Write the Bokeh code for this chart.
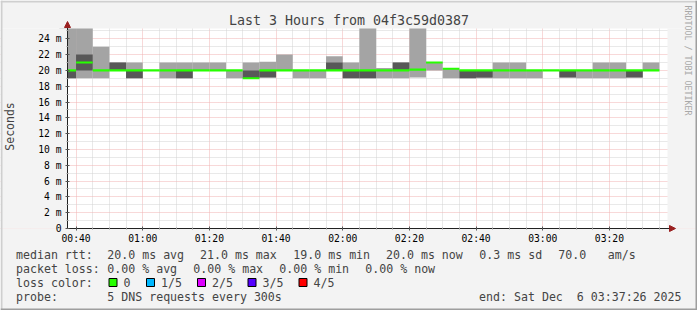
import math
from bokeh.plotting import figure
from bokeh.models import (ColumnDataSource, FixedTicker, Label, Arrow, NormalHead,
                          BoxAnnotation, Range1d)
from bokeh.embed import file_html
from bokeh.resources import INLINE

# ---------------- data ----------------
# start of each 5-minute step
step_start = ["00:35", "00:40", "00:45", "00:50", "00:55", "01:00", "01:05", "01:10",
              "01:15", "01:20", "01:25", "01:30", "01:35", "01:40", "01:45", "01:50",
              "01:55", "02:00", "02:05", "02:10", "02:15", "02:20", "02:25", "02:30",
              "02:35", "02:40", "02:45", "02:50", "02:55", "03:00", "03:05", "03:10",
              "03:15", "03:20", "03:25", "03:30"]
# sorted DNS response times of the 5 requests, in ms
ping1 = [19.0, 19.0, 19.0, 20.0, 19.0, 20.0, 19.0, 19.0, 20.0, 20.0, 19.0, 19.0,
         19.1, 20.0, 19.0, 19.0, 20.0, 19.0, 19.0, 19.0, 19.0, 19.1, 20.0, 19.0,
         19.0, 19.0, 19.0, 19.0, 19.0, 20.0, 19.1, 19.0, 19.0, 19.0, 19.1, 20.0]
ping2 = [19.0, 20.0, 20.0, 20.0, 19.0, 20.0, 20.0, 19.0, 20.0, 20.0, 20.0, 19.0,
         19.1, 20.0, 20.0, 20.0, 20.0, 19.0, 19.0, 20.0, 20.0, 20.1, 21.0, 20.2,
         19.0, 19.1, 20.0, 20.0, 20.0, 20.0, 19.1, 20.0, 20.0, 20.0, 19.1, 20.0]
median = [20.0, 21.0, 20.0, 20.0, 20.0, 20.0, 20.0, 20.0, 20.0, 20.0, 20.0, 19.0,
          20.0, 20.0, 20.0, 20.0, 20.0, 20.0, 20.0, 20.0, 20.0, 20.1, 21.0, 20.2,
          20.0, 20.0, 20.0, 20.0, 20.0, 20.0, 20.0, 20.0, 20.0, 20.0, 20.0, 20.0]
ping4 = [20.0, 22.0, 20.0, 21.0, 20.0, 20.0, 20.0, 20.0, 20.0, 20.0, 20.0, 20.0,
         20.0, 20.0, 20.0, 20.0, 21.0, 20.0, 20.0, 20.0, 21.0, 20.1, 21.0, 20.2,
         20.0, 20.0, 20.0, 20.0, 20.0, 20.0, 20.0, 20.0, 20.0, 20.0, 20.0, 20.0]
ping5 = [26.0, 26.0, 23.0, 21.0, 21.0, 20.0, 21.0, 21.0, 21.0, 21.0, 20.0, 21.0,
         21.1, 22.0, 20.0, 20.0, 21.8, 21.0, 26.0, 20.3, 21.0, 26.0, 21.0, 20.2,
         20.0, 20.0, 21.0, 21.0, 20.0, 20.0, 20.0, 20.0, 21.0, 21.0, 20.0, 21.0]

x_tick_labels = ["00:40", "01:00", "01:20", "01:40", "02:00", "02:20", "02:40", "03:00", "03:20"]
y_tick_values = [0, 2, 4, 6, 8, 10, 12, 14, 16, 18, 20, 22, 24]
y_tick_labels = ["0", "2 m", "4 m", "6 m", "8 m", "10 m", "12 m", "14 m", "16 m",
                 "18 m", "20 m", "22 m", "24 m"]

title_text = "Last 3 Hours from 04f3c59d0387"
rtt_items = ["median rtt:", "20.0 ms avg", "21.0 ms max", "19.0 ms min", "20.0 ms now",
             "0.3 ms sd", "70.0", "am/s"]
loss_items = ["packet loss:", "0.00 % avg", "0.00 % max", "0.00 % min", "0.00 % now"]
loss_title = "loss color:"
loss_labels = ["0", "1/5", "2/5", "3/5", "4/5"]
loss_colors = ["#26ff00", "#00b8ff", "#dd00ff", "#5500ff", "#ff0000"]
probe_items = ["probe:", "5 DNS requests every 300s"]
end_text = "end: Sat Dec\u00a0 6 03:37:26 2025"
watermark = "RRDTOOL / TOBI OETIKER"
start_time = "00:37:26"
span_minutes = 180

# ---------------- layout constants (pixels) ----------------
W, H = 697, 310
FL, FT, FW, FH = 67, 28, 600, 200          # white graph canvas
rtt_x = [15.5, 106.8, 199.5, 292.8, 385.5, 478.8, 557.8, 607.2]
loss_x = [15.5, 106.8, 192.8, 278.8, 364.8]
probe_x = [15.5, 106.8]
box_x = [108.5, 146, 197, 247.5, 298.5]
line_y = [254, 268, 282, 296]


def to_min(s):
    parts = [int(v) for v in s.split(":")]
    while len(parts) < 3:
        parts.append(0)
    return parts[0] * 60 + parts[1] + parts[2] / 60.0

X0 = to_min(start_time)
X1 = X0 + span_minutes
Y0, Y1 = 0.0, 25.3


def dx(px):
    return X0 + (px - FL) * (X1 - X0) / FW


def dy(py):
    return Y1 - (py - FT) * (Y1 - Y0) / FH


left = [to_min(s) for s in step_start]
right = [v + 5 for v in left]
HALF = 0.13
src = ColumnDataSource(dict(left=left, right=right, p1=ping1, p2=ping2, p4=ping4, p5=ping5,
                            mlo=[m - HALF for m in median], mhi=[m + HALF for m in median]))

FONT = "DejaVu Sans Mono"
BG = "#f3f3f3"

p = figure(width=W, height=H, output_backend="svg", toolbar_location=None,
           x_range=Range1d(dx(0), dx(W)), y_range=Range1d(dy(H), dy(0)),
           min_border=0, min_border_left=0, min_border_right=0,
           min_border_top=0, min_border_bottom=0)
p.title.visible = False
p.border_fill_color = BG
p.background_fill_color = "white"
p.outline_line_color = None

# smoke
p.quad(left="left", right="right", bottom="p1", top="p5", source=src,
       fill_color="#a4a4a4", line_color=None)
p.quad(left="left", right="right", bottom="p2", top="p4", source=src,
       fill_color="#585858", line_color=None)
# median coloured by loss (0 loss everywhere)
p.quad(left="left", right="right", bottom="mlo", top="mhi", source=src,
       fill_color=loss_colors[0], line_color=None)

# grey surround of the white graph canvas
cover = ColumnDataSource(dict(
    l=[dx(0), dx(0), dx(0), dx(FL + FW)],
    r=[dx(W), dx(W), dx(FL), dx(W)],
    t=[dy(0), dy(FT + FH), dy(FT), dy(FT)],
    b=[dy(FT), dy(H), dy(FT + FH), dy(FT + FH)]))
p.quad(left="l", right="r", top="t", bottom="b", source=cover,
       fill_color=BG, line_color=None)

# axes (fixed at the graph's edges)
x_major = [to_min(t) for t in x_tick_labels]
x_minor = [m for m in range(int(math.ceil(X0 / 5.0)) * 5, int(X1) + 1, 5) if m not in x_major]
p.xaxis.ticker = FixedTicker(ticks=x_major, minor_ticks=x_minor)
p.xaxis.major_label_overrides = {x_major[i]: x_tick_labels[i] for i in range(len(x_major))}
y_minor = [v + 1 for v in y_tick_values]
p.yaxis.ticker = FixedTicker(ticks=y_tick_values, minor_ticks=y_minor)
p.yaxis.major_label_overrides = {y_tick_values[i]: y_tick_labels[i] for i in range(len(y_tick_values))}
p.xaxis.fixed_location = 0
p.yaxis.fixed_location = X0
p.xaxis.bounds = (X0, dx(670))
p.yaxis.bounds = (0, dy(24))

for ax in (p.xaxis[0], p.yaxis[0]):
    ax.axis_line_color = "#222222"
    ax.major_tick_line_color = "#555555"
    ax.minor_tick_line_color = "#999999"
    ax.major_tick_in = 2
    ax.major_tick_out = 2
    ax.minor_tick_in = 1
    ax.minor_tick_out = 1
    ax.major_label_text_font = FONT
    ax.major_label_text_font_size = "9.7px"
    ax.major_label_text_color = "black"
p.xaxis.major_label_standoff = 2
p.yaxis.major_label_standoff = 4
p.yaxis.axis_label = "Seconds"
p.yaxis.axis_label_text_font = FONT
p.yaxis.axis_label_text_font_style = "normal"
p.yaxis.axis_label_text_font_size = "11.5px"
p.yaxis.axis_label_standoff = 18

for g in (p.xgrid[0], p.ygrid[0]):
    g.grid_line_color = "#f0b2b2"
    g.grid_line_dash = "1 1"
    g.minor_grid_line_color = "#d2d2d2"
    g.minor_grid_line_dash = "1 1"

# arrow heads at the axis ends
p.add_layout(Arrow(end=NormalHead(size=6, fill_color="#9a2020", line_color="#9a2020"),
                   x_start=dx(669), y_start=0, x_end=dx(675), y_end=0,
                   line_color="#222222", line_width=1))
p.add_layout(Arrow(end=NormalHead(size=6, fill_color="#9a2020", line_color="#9a2020"),
                   x_start=X0, y_start=dy(26), x_end=X0, y_end=dy(21),
                   line_color="#222222", line_width=1))

# texts
p.add_layout(Label(x=dx(348.5), y=dy(19.5), text=title_text, text_font=FONT,
                   text_font_size="13.3px", text_align="center", text_baseline="middle"))
p.add_layout(Label(x=dx(687), y=dy(60), text=watermark, text_font=FONT,
                   text_font_size="8.3px", text_align="center", text_baseline="middle",
                   angle=-math.pi / 2, text_color="#a8a8a8"))

LF = "11.6px"


def add_text(px, py, s, align="left"):
    p.add_layout(Label(x=dx(px), y=dy(py), text=s, text_font=FONT, text_font_size=LF,
                       text_baseline="middle", text_align=align))


for i in range(len(rtt_items)):
    add_text(rtt_x[i], line_y[0], rtt_items[i])
for i in range(len(loss_items)):
    add_text(loss_x[i], line_y[1], loss_items[i])
add_text(15.5, line_y[2], loss_title)
for i in range(len(loss_labels)):
    p.add_layout(BoxAnnotation(left=dx(box_x[i]), right=dx(box_x[i] + 8),
                               top=dy(line_y[2] - 4), bottom=dy(line_y[2] + 4),
                               fill_color=loss_colors[i], fill_alpha=1.0,
                               line_color="black", line_width=1, line_alpha=1.0))
    add_text(box_x[i] + 14.5, line_y[2], loss_labels[i])
for i in range(len(probe_items)):
    add_text(probe_x[i], line_y[3], probe_items[i])
add_text(681, line_y[3], end_text, align="right")

# 3-D frame around the image
p.add_layout(BoxAnnotation(left=dx(0), right=dx(W), top=dy(0), bottom=dy(2),
                           fill_color="#cfcfcf", fill_alpha=1, line_color=None))
p.add_layout(BoxAnnotation(left=dx(0), right=dx(2), top=dy(0), bottom=dy(H),
                           fill_color="#cfcfcf", fill_alpha=1, line_color=None))
p.add_layout(BoxAnnotation(left=dx(0), right=dx(W), top=dy(H - 2), bottom=dy(H),
                           fill_color="#9e9e9e", fill_alpha=1, line_color=None))
p.add_layout(BoxAnnotation(left=dx(W - 2), right=dx(W), top=dy(0), bottom=dy(H),
                           fill_color="#9e9e9e", fill_alpha=1, line_color=None))

open("out.html", "w").write(file_html(p, INLINE))
